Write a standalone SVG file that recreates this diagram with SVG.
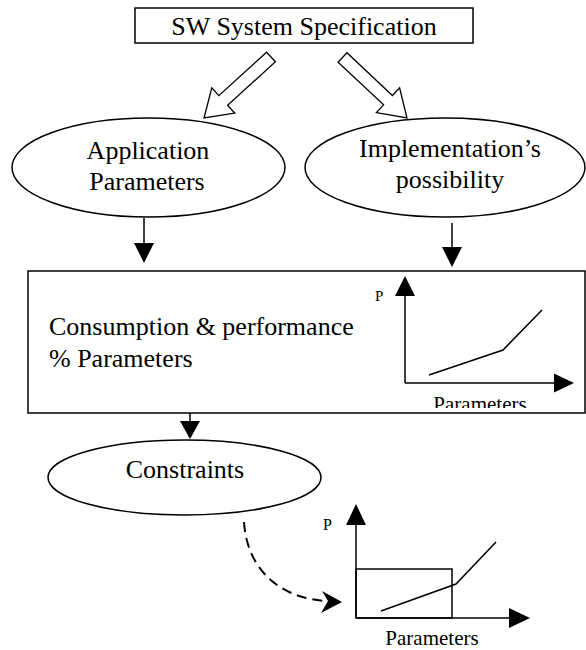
<svg xmlns="http://www.w3.org/2000/svg" width="586" height="650" viewBox="0 0 586 650">
<style>
  .t { font-family: "Liberation Serif", "DejaVu Serif", serif; fill: #000; }
  .big { font-size: 26px; }
  .mid { font-size: 21px; }
  .sm { font-size: 15px; }
  .shape { fill: #fff; stroke: #000; stroke-width: 1.5; }
  .ln { fill: none; stroke: #000; stroke-width: 1.5; }
  .head { fill: #000; stroke: none; }
  .hollow { fill: #fff; stroke: #000; stroke-width: 1.3; stroke-linejoin: miter; }
  .dash { fill: none; stroke: #000; stroke-width: 2; stroke-dasharray: 10 6; }
</style>
<defs>
  <clipPath id="clipParam"><rect x="0" y="0" width="586" height="408"/></clipPath>
</defs>
<rect width="586" height="650" fill="#fff"/>

<g id="spec">
  <rect class="shape" x="135" y="8" width="338" height="35"/>
  <text class="t big" font-family="Liberation Serif, serif" x="304" y="35" text-anchor="middle">SW System Specification</text>
</g>

<g id="app-params">
  <ellipse class="shape" cx="148.5" cy="167.5" rx="136.5" ry="49.5"/>
  <text class="t big" font-family="Liberation Serif, serif" x="148" y="159" text-anchor="middle">Application</text>
  <text class="t big" font-family="Liberation Serif, serif" x="147" y="190" text-anchor="middle">Parameters</text>
</g>

<g id="impl-possibility">
  <ellipse class="shape" cx="445" cy="167.5" rx="140" ry="49.5"/>
  <text class="t big" font-family="Liberation Serif, serif" x="450" y="157" text-anchor="middle">Implementation’s</text>
  <text class="t big" font-family="Liberation Serif, serif" x="450" y="188" text-anchor="middle">possibility</text>
</g>

<g id="consumption">
  <rect class="shape" x="28" y="271" width="557" height="142"/>
  <text class="t big" font-family="Liberation Serif, serif" x="49" y="335">Consumption &amp; performance</text>
  <text class="t big" font-family="Liberation Serif, serif" x="49" y="367">% Parameters</text>
  <g id="chart1">
    <line class="ln" x1="405" y1="383" x2="405" y2="295"/>
    <polygon class="head" points="395,296 415,296 405,276"/>
    <line class="ln" x1="405" y1="383" x2="555" y2="383"/>
    <polygon class="head" points="554,373.5 554,392.5 574,383"/>
    <polyline class="ln" points="429,375 503,350 542,310"/>
    <text class="t sm" font-family="Liberation Serif, serif" x="375" y="301">P</text>
    <text class="t mid" font-family="Liberation Serif, serif" x="480" y="411" text-anchor="middle" clip-path="url(#clipParam)">Parameters</text>
  </g>
</g>

<g id="constraints">
  <ellipse class="shape" cx="184.5" cy="477.5" rx="136.5" ry="37.5"/>
  <text class="t big" font-family="Liberation Serif, serif" x="185" y="478" text-anchor="middle">Constraints</text>
</g>

<g id="chart2">
  <rect class="ln" x="356" y="569" width="96" height="49"/>
  <line class="ln" x1="356" y1="618" x2="356" y2="524"/>
  <polygon class="head" points="346,525 366,525 356,504"/>
  <line class="ln" x1="356" y1="618" x2="510" y2="618"/>
  <polygon class="head" points="509,608 509,628 530,618"/>
  <polyline class="ln" points="381,611 456,584 496,542"/>
  <text class="t" font-family="Liberation Serif, serif" font-size="16" x="323" y="530">P</text>
  <text class="t mid" font-family="Liberation Serif, serif" x="432" y="645" text-anchor="middle">Parameters</text>
</g>

<g id="connectors">
  <polygon class="hollow" points="266.6,52.2 275.4,61.8 227.6,105.3 234.7,113.1 204,118 211.8,87.9 218.8,95.7"/>
  <polygon class="hollow" points="346.95,52.76 338.05,62.24 383.6,104.9 376.4,112.6 407,118 399.6,87.8 392.4,95.5"/>
  <line class="ln" x1="144" y1="218" x2="144" y2="244"/>
  <polygon class="head" points="134,243 154,243 144,263"/>
  <line class="ln" x1="452" y1="223" x2="452" y2="248"/>
  <polygon class="head" points="442,247 462,247 452,267"/>
  <line class="ln" x1="190" y1="413" x2="190" y2="422"/>
  <polygon class="head" points="180,421 200,421 190,439"/>
  <path class="dash" d="M244,522 C247,568 278,598 326,601"/>
  <polygon class="head" points="342,602 322,591 328,601 321,613"/>
</g>
</svg>
